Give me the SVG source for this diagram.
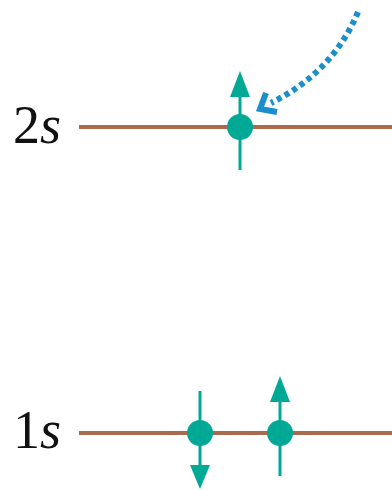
<svg xmlns="http://www.w3.org/2000/svg" width="392" height="490" viewBox="0 0 392 490">
<style>
.lvl{stroke:#a96a4e;stroke-width:4;fill:none}
.spin{stroke:#00a896;stroke-width:3;fill:none}
.dot{fill:#00a896}
.head{fill:#00a896}
.lbl{font-family:"Liberation Serif","Times New Roman",serif;font-size:54px;fill:#111}
.dash{stroke:#1b8fcc;stroke-width:6;fill:none}
</style>
<rect width="392" height="490" fill="#fff"/>
<g id="level-2s">
<text class="lbl" x="13" y="143">2<tspan font-style="italic">s</tspan></text>
<line class="lvl" x1="79" y1="127" x2="392" y2="127"/>
</g>
<g id="level-1s">
<text class="lbl" x="13" y="448">1<tspan font-style="italic">s</tspan></text>
<line class="lvl" x1="79" y1="433" x2="392" y2="433"/>
</g>
<g id="electron-2s">
<line class="spin" x1="240" y1="170" x2="240" y2="92"/>
<polygon class="head" points="240,71 230,97 250,97"/>
<circle class="dot" cx="240" cy="127" r="13"/>
</g>
<g id="electron-1s-down">
<line class="spin" x1="200" y1="391" x2="200" y2="470"/>
<polygon class="head" points="200,489 190,465 210,465"/>
<circle class="dot" cx="200" cy="433" r="13"/>
</g>
<g id="electron-1s-up">
<line class="spin" x1="280" y1="476" x2="280" y2="396"/>
<polygon class="head" points="280,376 270,402 290,402"/>
<circle class="dot" cx="280" cy="433" r="13"/>
</g>
<g id="connectors">
<path class="dash" d="M358,12 Q333,72 271,103" stroke-dasharray="5,4"/>
<polyline points="266,93 260,109 277,112" fill="none" stroke="#1b8fcc" stroke-width="6"/>
</g>
</svg>
